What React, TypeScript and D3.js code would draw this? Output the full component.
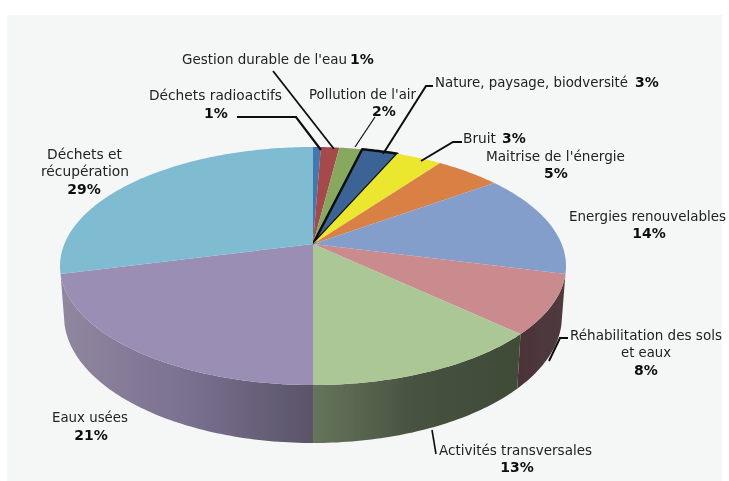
import React from "react";
import * as d3 from "d3";

const W = 729, H = 481;
const categories = ["Déchets radioactifs", "Gestion durable de l'eau", "Pollution de l'air", "Nature, paysage, biodversité", "Bruit", "Maitrise de l'énergie", "Energies renouvelables", "Réhabilitation des sols et eaux", "Activités transversales", "Eaux usées", "Déchets et récupération"];
const shares = [0.6, 1.4, 1.75, 2.75, 3.5, 5, 14, 8, 13, 21, 29];
const topColors = ["#3f78b0", "#a5484c", "#86a85e", "#3a6496", "#ebe62f", "#d98144", "#849ecb", "#c98b8e", "#aac795", "#9b8eb5", "#7fbbd1"];
// side colours, left to right across the front of the disc
const walled = [7, 8, 9];
const wallLeft = ["#4a3336", "#66755c", "#90869f"];
const wallMid = ["#4d373b", "#47523f", "#7a7090"];
const wallRight = ["#4f3a3e", "#3f4b38", "#5a5468"];

const labels: { x: number; y: number; w?: number; anchor: string; t: string; b?: boolean }[] = [
  { x: 182, y: 64, w: 165, anchor: "start", t: "Gestion durable de l'eau" },
  { x: 350, y: 64, anchor: "start", t: "1%", b: true },
  { x: 149, y: 100, w: 133, anchor: "start", t: "Déchets radioactifs" },
  { x: 216, y: 118, anchor: "middle", t: "1%", b: true },
  { x: 309, y: 99, w: 107, anchor: "start", t: "Pollution de l'air" },
  { x: 384, y: 115.5, anchor: "middle", t: "2%", b: true },
  { x: 435, y: 87, w: 193, anchor: "start", t: "Nature, paysage, biodversité" },
  { x: 635, y: 87, anchor: "start", t: "3%", b: true },
  { x: 463, y: 143, w: 33, anchor: "start", t: "Bruit" },
  { x: 502, y: 143, anchor: "start", t: "3%", b: true },
  { x: 486, y: 161, w: 139, anchor: "start", t: "Maitrise de l'énergie" },
  { x: 556, y: 178, anchor: "middle", t: "5%", b: true },
  { x: 569, y: 221, w: 157, anchor: "start", t: "Energies renouvelables" },
  { x: 649, y: 238, anchor: "middle", t: "14%", b: true },
  { x: 570, y: 340, w: 152, anchor: "start", t: "Réhabilitation des sols" },
  { x: 621, y: 357, w: 50, anchor: "start", t: "et eaux" },
  { x: 646, y: 375, anchor: "middle", t: "8%", b: true },
  { x: 439, y: 455, w: 153, anchor: "start", t: "Activités transversales" },
  { x: 517, y: 472, anchor: "middle", t: "13%", b: true },
  { x: 52, y: 422, w: 76, anchor: "start", t: "Eaux usées" },
  { x: 91, y: 440, anchor: "middle", t: "21%", b: true },
  { x: 47, y: 159, w: 75, anchor: "start", t: "Déchets et" },
  { x: 41, y: 176, w: 88, anchor: "start", t: "récupération" },
  { x: 84, y: 194, anchor: "middle", t: "29%", b: true },
];

const leaders: { pts: [number, number][]; sw: number }[] = [
  { pts: [[237, 117], [296, 117], [321, 150]], sw: 2.2 },
  { pts: [[273, 71], [334, 149]], sw: 1.8 },
  { pts: [[375, 117], [355, 147]], sw: 1.2 },
  { pts: [[433, 86], [426, 86], [383, 154]], sw: 2 },
  { pts: [[462, 142], [453, 142], [421, 161]], sw: 2 },
  { pts: [[568, 338], [560, 338], [549, 361]], sw: 2 },
  { pts: [[432, 430], [436, 454]], sw: 1.6 },
];

const topCx = 313, topCy = 266, topRx = 253, topRy = 119;
const botCx = 313, botCy = 316, botRx = 249, botRy = 127;
const apex: [number, number] = [313, 244];
const e = (topCy - apex[1]) / topRy;

function project(a: number): [number, number] {
  const x = Math.sin(a), y = -Math.cos(a);
  const d = 1 - e * y;
  return [(x * Math.sqrt(1 - e * e)) / d, (y - e) / d];
}
const unit = d3.scaleLinear().domain([-1, 1]);
const topX = unit.copy().range([topCx - topRx, topCx + topRx]);
const topY = unit.copy().range([topCy - topRy, topCy + topRy]);
const botX = unit.copy().range([botCx - botRx, botCx + botRx]);
const botY = unit.copy().range([botCy - botRy, botCy + botRy]);
const onTop = (a: number): [number, number] => { const p = project(a); return [topX(p[0]), topY(p[1])]; };
const onBot = (a: number): [number, number] => { const p = project(a); return [botX(p[0]), botY(p[1])]; };

const arcs = d3.pie<number>().sort(null).value((d) => d)(shares);
const line = d3.line();

function samples(a0: number, a1: number): number[] {
  const n = Math.max(4, Math.ceil((a1 - a0) * 60));
  return d3.range(n + 1).map((i) => a0 + ((a1 - a0) * i) / n);
}

const faceFont = "'DejaVu Sans', sans-serif";

export default function App() {
  return (
    <svg width={W} height={H} style={{ position: "absolute", left: 0, top: 0, display: "block" }}>
      <rect width={W} height={H} fill="#ffffff" />
      <rect x={7} y={15} width={715} height={466} fill="#f5f7f7" />
      <defs>
        <filter id="soft" x="-5%" y="-5%" width="110%" height="110%"><feGaussianBlur stdDeviation="0.3" /></filter>
        {walled.map((i, k) => {
          const a = arcs[i];
          const xs = [onBot(a.startAngle)[0], onBot(a.endAngle)[0]];
          return (
            <linearGradient key={i} id={`wall${i}`} gradientUnits="userSpaceOnUse" x1={d3.min(xs)} x2={d3.max(xs)} y1={0} y2={0}>
              <stop offset="0%" stopColor={wallLeft[k]} />
              <stop offset="50%" stopColor={wallMid[k]} />
              <stop offset="100%" stopColor={wallRight[k]} />
            </linearGradient>
          );
        })}
      </defs>
      <g filter="url(#soft)">
        {walled.map((i) => {
          const a = arcs[i];
          const as = samples(a.startAngle, a.endAngle);
          const pts = [...as.map(onTop), ...as.slice().reverse().map(onBot)];
          return <path key={categories[i]} d={line(pts) + "Z"} fill={`url(#wall${i})`} />;
        })}
        {arcs.map((a, i) => {
          const pts = [apex, ...samples(a.startAngle, a.endAngle).map(onTop)];
          return <path key={categories[i]} d={line(pts) + "Z"} fill={topColors[i]} stroke={i === 3 ? "#0c0c0c" : "none"} strokeWidth={i === 3 ? 2.5 : 0} strokeLinejoin="round" />;
        })}
        {leaders.map((l, i) => (
          <path key={i} d={line(l.pts) ?? ""} fill="none" stroke="#111" strokeWidth={l.sw} />
        ))}
        {labels.map((l, i) => (
          <text key={i} x={l.x} y={l.y} textAnchor={l.anchor} fontFamily={faceFont} fontSize={l.b ? 14 : 13.5}
            fontWeight={l.b ? 700 : 400} fill={l.b ? "#111" : "#222"}
            textLength={l.w} lengthAdjust={l.w ? "spacingAndGlyphs" : undefined}>
            {l.t}
          </text>
        ))}
      </g>
    </svg>
  );
}
